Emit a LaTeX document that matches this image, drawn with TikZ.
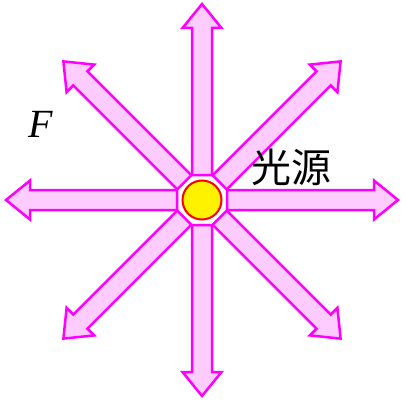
\documentclass[tikz,border=0pt]{standalone}
\usepackage{fontspec}
\newfontfamily\cjk{Noto Sans CJK SC}
\newfontfamily\flabel{Liberation Serif}
\definecolor{arrowfill}{HTML}{FFCCFF}
\definecolor{arrowline}{HTML}{FF00FF}
\begin{document}
\begin{tikzpicture}[x=1pt,y=-1pt,
  rayarrow/.style={draw=arrowline, fill=arrowfill, line width=2.5pt, line join=miter},
  lamp/.style={circle, draw=red, fill=yellow, line width=2pt, minimum size=39pt, inner sep=0pt}]
\useasboundingbox (0,0) rectangle (405,406);
\coordinate (c) at (202,200);
\foreach \a in {0,45,...,315}{
  \draw[rayarrow, shift={(c)}, rotate=\a]
    (25,-10) -- (172,-10) -- (172,-19.5) -- (196,0) -- (172,19.5) -- (172,10) -- (25,10) -- cycle;
}
\node[lamp] (src) at (c) {};
\node[inner sep=0pt] (F) at (41,124) {\fontsize{40}{44}\selectfont\flabel\itshape F};
\node[inner sep=0pt] (label) at (291,167) {\fontsize{40}{44}\selectfont\cjk 光源};
\end{tikzpicture}
\end{document}
